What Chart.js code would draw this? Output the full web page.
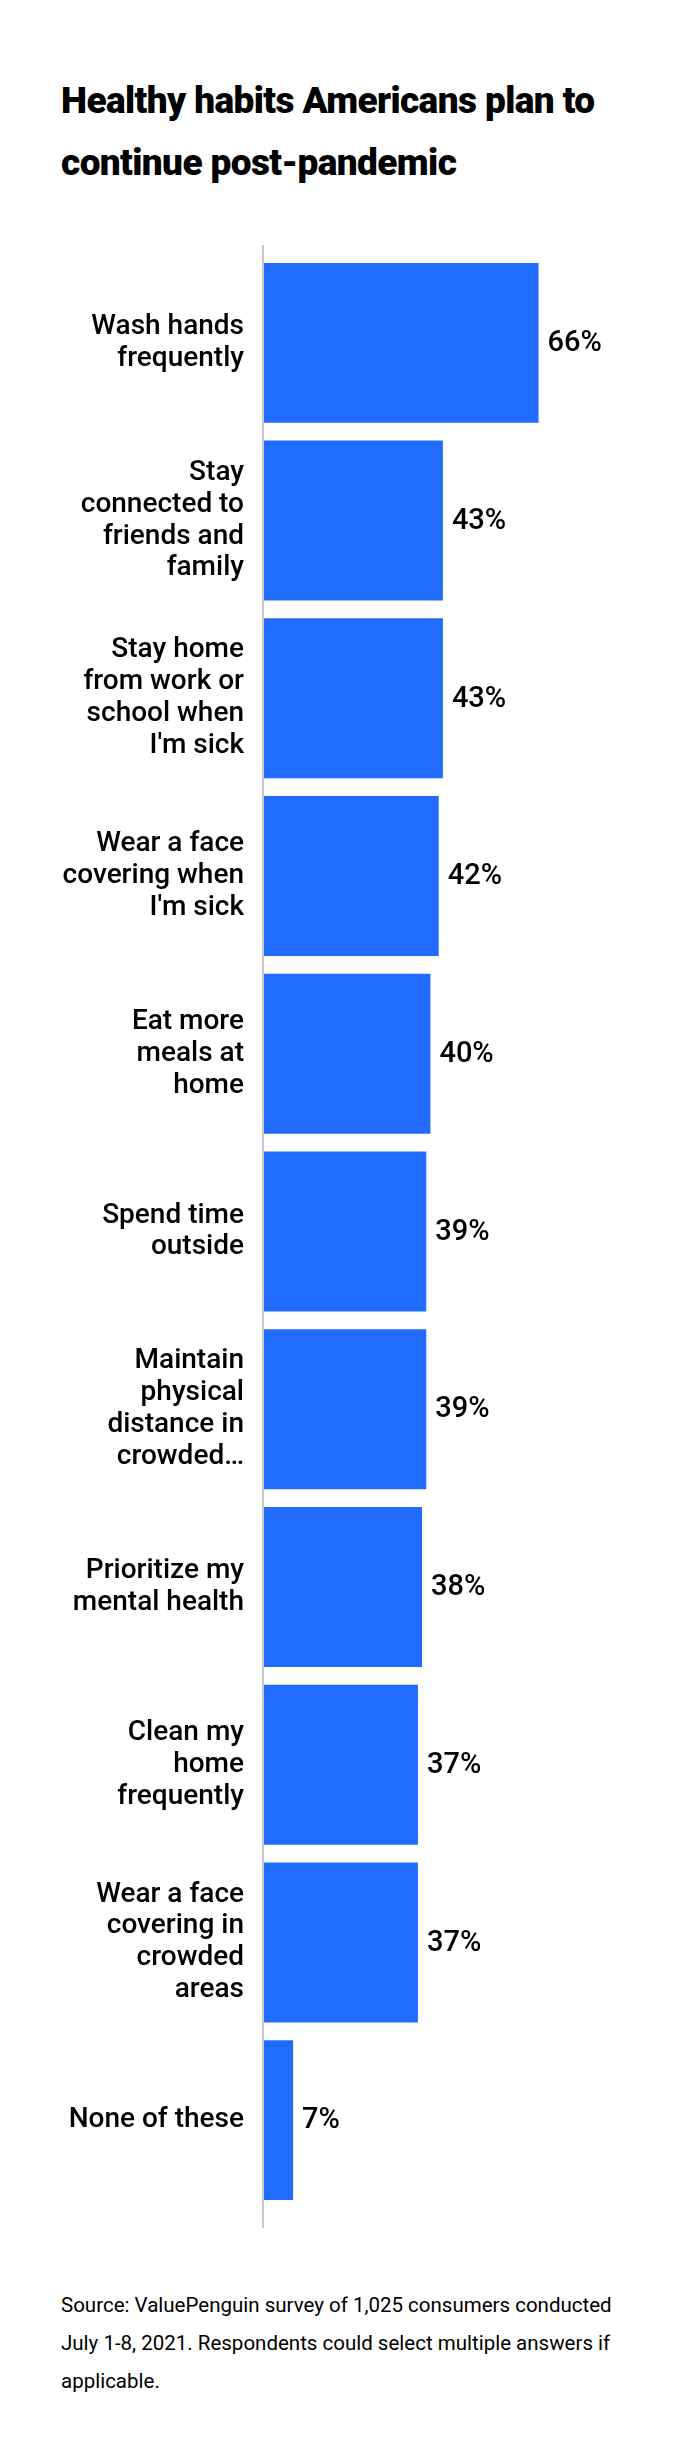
<!DOCTYPE html>
<html>
<head>
<meta charset="utf-8">
<script src="https://cdn.jsdelivr.net/npm/chart.js@4"></script>
<style>
  body { margin:0; background:#fff; width:700px; height:2464px; position:relative; font-family:Roboto, "Noto Sans", sans-serif; }
  #title { position:absolute; left:61px; top:70px; font-size:37px; font-weight:900; line-height:62px; color:#000; letter-spacing:-0.6px; }
  #box { position:absolute; left:0; top:230px; width:700px; height:2000px; }
  #source { position:absolute; left:61px; top:2286px; width:575px; font-size:20.5px; line-height:38px; color:#000; }
</style>
</head>
<body>
<div id="title">Healthy habits Americans plan to<br>continue post-pandemic</div>
<div id="box"><canvas id="habitsChart"></canvas></div>
<div id="source">Source: ValuePenguin survey of 1,025 consumers conducted July 1-8, 2021. Respondents could select multiple answers if applicable.</div>

<script>
// =======================================================
// Données
// =======================================================

const habits = [
    ["Wash hands", "frequently"],
    ["Stay", "connected to", "friends and", "family"],
    ["Stay home", "from work or", "school when", "I'm sick"],
    ["Wear a face", "covering when", "I'm sick"],
    ["Eat more", "meals at", "home"],
    ["Spend time", "outside"],
    ["Maintain", "physical", "distance in", "crowded…"],
    ["Prioritize my", "mental health"],
    ["Clean my", "home", "frequently"],
    ["Wear a face", "covering in", "crowded", "areas"],
    "None of these"
];

const shares = [66, 43, 43, 42, 40, 39, 39, 38, 37, 37, 7];


// =======================================================
// Plugins
// =======================================================

// ligne verticale de l'axe, un peu plus longue que la zone du graphique
const axisLine = {
    id: "axisLine",
    beforeDatasetsDraw(chart) {
        const ctx = chart.ctx;
        const a = chart.chartArea;
        ctx.save();
        ctx.strokeStyle = "#c9c9c9";
        ctx.lineWidth = 2;
        ctx.beginPath();
        ctx.moveTo(a.left - 1, a.top - 9);
        ctx.lineTo(a.left - 1, a.bottom + 19);
        ctx.stroke();
        ctx.restore();
    }
};

// valeurs en bout de barre
const valueLabels = {
    id: "valueLabels",
    afterDatasetsDraw(chart) {
        const ctx = chart.ctx;
        const meta = chart.getDatasetMeta(0);
        ctx.save();
        ctx.font = "500 29px Roboto";
        ctx.fillStyle = "#000";
        ctx.textAlign = "left";
        ctx.textBaseline = "middle";
        meta.data.forEach((bar, i) => {
            ctx.fillText(shares[i] + "%", bar.x + 9, bar.y + 1);
        });
        ctx.restore();
    }
};


// =======================================================
// Graphique
// =======================================================

function drawHabits() {

    new Chart(document.getElementById("habitsChart"), {

        type: "bar",

        data: {

            labels: habits,

            datasets: [{

                data: shares,

                backgroundColor: "#216cff",

                categoryPercentage: 0.9,

                barPercentage: 1

            }]

        },

        options: {

            responsive: true,

            maintainAspectRatio: false,

            animation: false,

            indexAxis: "y",

            layout: {
                padding: { top: 24, bottom: 21, right: 20, left: 0 }
            },

            plugins: {
                legend: { display: false },
                tooltip: { enabled: false }
            },

            scales: {

                x: {
                    min: 0,
                    max: 100,
                    display: false
                },

                y: {
                    grid: { display: false, drawTicks: false },
                    border: { display: false },
                    ticks: {
                        color: "#000",
                        padding: 20,
                        font: { family: "Roboto", size: 28, weight: "500", lineHeight: 1.14 }
                    },
                    afterFit(scale) {
                        scale.width = 264;
                        scale.paddingTop = 0;
                        scale.paddingBottom = 0;
                    }
                }

            }

        },

        plugins: [axisLine, valueLabels]

    });

}

drawHabits();
</script>
</body>
</html>
